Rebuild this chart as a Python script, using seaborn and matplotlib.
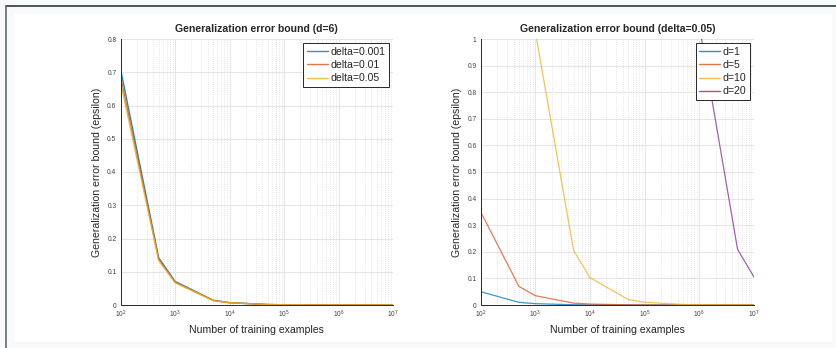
import numpy as np
import pandas as pd
import matplotlib
matplotlib.use('Agg')
import matplotlib.pyplot as plt
import matplotlib.ticker as mticker
from matplotlib.patches import Rectangle
from matplotlib.lines import Line2D
import seaborn as sns

# Number of training examples (shared x values)
n_examples = [100, 500, 1000, 5000, 10000, 50000, 100000, 500000,
              1000000, 5000000, 10000000]

# Left panel: d=6, varying delta
delta_labels = ['delta=0.001', 'delta=0.01', 'delta=0.05']
eps_delta_001 = [0.709, 0.142, 0.0709, 0.0142, 0.00709, 0.00142, 0.000709,
                 0.000142, 0.0000709, 0.0000142, 0.00000709]
eps_delta_01 = [0.686, 0.137, 0.0686, 0.0137, 0.00686, 0.00137, 0.000686,
                0.000137, 0.0000686, 0.0000137, 0.00000686]
eps_delta_05 = [0.670, 0.134, 0.0670, 0.0134, 0.0067, 0.00134, 0.00067,
                0.000134, 0.000067, 0.0000134, 0.0000067]

# Right panel: delta=0.05, varying d
d_labels = ['d=1', 'd=5', 'd=10', 'd=20']
eps_d1 = [0.05, 0.01, 0.005, 0.001, 0.0005, 0.0001, 0.00005, 0.00001,
          0.000005, 0.000001, 0.0000005]
eps_d5 = [0.35, 0.07, 0.035, 0.007, 0.0035, 0.0007, 0.00035, 0.00007,
          0.000035, 0.000007, 0.0000035]
eps_d10 = [10.27, 2.054, 1.027, 0.2054, 0.1027, 0.02054, 0.01027, 0.002054,
           0.001027, 0.0002054, 0.0001027]
eps_d20 = [10485.8, 2097.16, 1048.58, 209.72, 104.86, 20.97, 10.49, 2.097,
           1.0486, 0.2097, 0.1049]

matlab_colors = ['#0072BD', '#D95319', '#EDB120', '#7E2F8E']


def long_frame(labels, series):
    rows = []
    for lab, vals in zip(labels, series):
        for n, v in zip(n_examples, vals):
            rows.append({'n': n, 'eps': v, 'series': lab})
    return pd.DataFrame(rows)


def style_axes(ax, ymax, title):
    ax.set_xscale('log')
    ax.set_xlim(1e2, 1e7)
    ax.set_ylim(0, ymax)
    ax.set_yticks(np.round(np.arange(0, ymax + 0.001, 0.1), 1))
    ax.yaxis.set_major_formatter(mticker.FuncFormatter(lambda v, p: f'{v:g}'))
    ax.xaxis.set_minor_locator(mticker.LogLocator(base=10, subs=np.arange(2, 10)))
    ax.xaxis.set_minor_formatter(mticker.NullFormatter())
    ax.grid(True, which='major', color='#e0e0e0', linewidth=0.6, linestyle='-')
    ax.grid(True, which='minor', axis='x', color='#cfcfcf', linewidth=0.5,
            linestyle=(0, (1, 2)))
    ax.set_axisbelow(True)
    for side in ['top', 'right']:
        ax.spines[side].set_visible(False)
    for side in ['left', 'bottom']:
        ax.spines[side].set_color('#262626')
        ax.spines[side].set_linewidth(0.7)
    ax.tick_params(axis='both', which='major', direction='in', length=2.5,
                   width=0.5, labelsize=4.8, colors='#262626',
                   labelcolor='#404040', pad=3)
    ax.tick_params(axis='x', which='minor', direction='in', length=1.5,
                   width=0.4, colors='#262626')
    ax.set_title(title, fontsize=7.6, fontweight='bold', pad=5)
    ax.set_xlabel('Number of training examples', fontsize=7.6, labelpad=3)
    ax.set_ylabel('Generalization error bound (epsilon)', fontsize=7.6,
                  labelpad=4)


def add_legend(ax, labels, colors):
    handles = [Line2D([], [], color=c, linewidth=1.0, alpha=0.8)
               for c in colors[:len(labels)]]
    leg = ax.legend(handles, labels, loc='upper right', fontsize=7.6,
                    fancybox=False, framealpha=1, edgecolor='#262626',
                    handlelength=2.0, handletextpad=0.2, borderpad=0.35,
                    labelspacing=0.3, borderaxespad=0.4)
    leg.get_frame().set_linewidth(0.7)


def main():
    sns.set_style('white')
    plt.rcParams['font.family'] = ['Liberation Sans', 'DejaVu Sans']

    fig = plt.figure(figsize=(8.37, 3.48), dpi=100)
    fig.patch.set_facecolor('#f8f9fa')

    # page frame
    fig.add_artist(Rectangle((14 / 837, 1 - 342 / 348), (832 - 14) / 837,
                             (342 - 14) / 348, transform=fig.transFigure,
                             facecolor='white', edgecolor='none', zorder=0))
    fig.add_artist(Line2D([6 / 837, 1], [1 - 5.5 / 348, 1 - 5.5 / 348],
                          transform=fig.transFigure, color='#2b3a42',
                          linewidth=1.2))
    fig.add_artist(Line2D([6.5 / 837, 6.5 / 837], [0, 1 - 5.5 / 348],
                          transform=fig.transFigure, color='#5f6b70',
                          linewidth=1.2))

    ax1 = fig.add_axes([120.6 / 837, 1 - 305 / 348, (393 - 120.6) / 837,
                        (305 - 39) / 348])
    ax2 = fig.add_axes([480.7 / 837, 1 - 305 / 348, (754 - 480.7) / 837,
                        (305 - 39) / 348])

    df_left = long_frame(delta_labels, [eps_delta_001, eps_delta_01, eps_delta_05])
    sns.lineplot(data=df_left, x='n', y='eps', hue='series',
                 hue_order=delta_labels, palette=matlab_colors[:3],
                 estimator=None, linewidth=1.0, alpha=0.85, ax=ax1, legend=False)
    style_axes(ax1, 0.8, 'Generalization error bound (d=6)')
    add_legend(ax1, delta_labels, matlab_colors)

    df_right = long_frame(d_labels, [eps_d1, eps_d5, eps_d10, eps_d20])
    sns.lineplot(data=df_right, x='n', y='eps', hue='series',
                 hue_order=d_labels, palette=matlab_colors,
                 estimator=None, linewidth=0.9, alpha=0.75, ax=ax2, legend=False)
    style_axes(ax2, 1.0, 'Generalization error bound (delta=0.05)')
    add_legend(ax2, d_labels, matlab_colors)

    fig.savefig('out.png', dpi=100, facecolor=fig.get_facecolor())


if __name__ == '__main__':
    main()
